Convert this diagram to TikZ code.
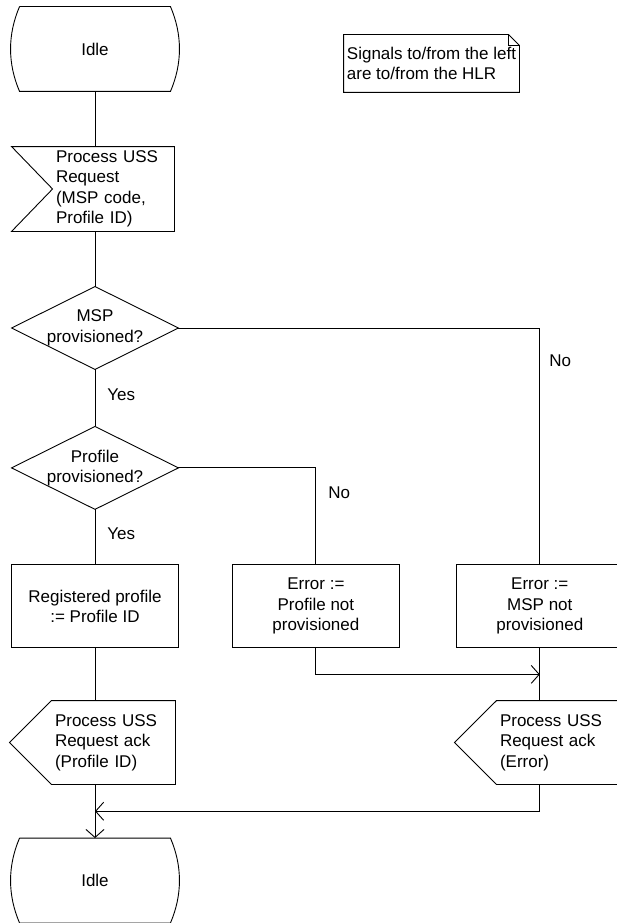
\documentclass[tikz,border=0pt]{standalone}
\usepackage{fontspec}
\setmainfont{Liberation Sans}
\usetikzlibrary{arrows.meta, positioning, calc}

\begin{document}
\begin{tikzpicture}[
        x=1pt, y=1pt, line width=0.9pt,
        every node/.style={font=\fontsize{17pt}{20.5pt}\selectfont},
        state/.style={minimum width=150pt, minimum height=84pt, inner sep=0pt,
            append after command={\pgfextra{\draw (\tikzlastnode.north west) -- (\tikzlastnode.north east)
                .. controls +(12pt,-28pt) and +(12pt,28pt) .. (\tikzlastnode.south east)
                -- (\tikzlastnode.south west)
                .. controls +(-12pt,28pt) and +(-12pt,-28pt) .. (\tikzlastnode.north west);}}},
        sigin/.style={minimum width=121pt, minimum height=84pt, text width=115pt, inner sep=3pt, align=left,
            append after command={\pgfextra{\draw (\tikzlastnode.north east) -- ([xshift=-41pt]\tikzlastnode.north west)
                -- (\tikzlastnode.west) -- ([xshift=-41pt]\tikzlastnode.south west)
                -- (\tikzlastnode.south east) -- cycle;}}},
        sigout/.style={minimum width=123pt, minimum height=83pt, text width=117pt, inner sep=3pt, align=left,
            append after command={\pgfextra{\draw (\tikzlastnode.north west) -- (\tikzlastnode.north east)
                -- (\tikzlastnode.south east) -- (\tikzlastnode.south west)
                -- ([xshift=-42pt]\tikzlastnode.west) -- cycle;}}},
        decision/.style={minimum width=166pt, minimum height=82pt, inner sep=0pt, align=center,
            append after command={\pgfextra{\draw (\tikzlastnode.north) -- (\tikzlastnode.east)
                -- (\tikzlastnode.south) -- (\tikzlastnode.west) -- cycle;}}},
        task/.style={rectangle, draw, minimum width=167pt, minimum height=83pt, inner sep=2pt, align=center},
        note/.style={minimum width=175pt, minimum height=57pt, inner sep=2pt, align=left,
            append after command={\pgfextra{\draw (\tikzlastnode.north west) -- ([xshift=-11pt]\tikzlastnode.north east)
                -- ([yshift=-11pt]\tikzlastnode.north east) -- (\tikzlastnode.south east)
                -- (\tikzlastnode.south west) -- cycle
                ([xshift=-11pt]\tikzlastnode.north east) |- ([yshift=-11pt]\tikzlastnode.north east);}}},
        lbl/.style={inner sep=0pt},
        arrow/.style={-{Straight Barb[length=8pt, width=18pt]}}
    ]
        \useasboundingbox (0,0) rectangle (617,-923);

        % Start
        \node[state] (idle1) at (95,-49) {Idle};
        \node[sigin] (req) at (113.5,-189) {Process USS\\Request\\(MSP code,\\Profile ID)};
        \node[note] (hlr) at (431.5,-63.5) {Signals to/from the left\\are to/from the HLR};

        % Checks
        \node[decision] (mspok) at (95,-328) {MSP\\provisioned?};
        \node[decision, below=57pt of mspok] (profok) {Profile\\provisioned?};

        % Tasks
        \node[task, below=55pt of profok] (setprof) {Registered profile\\:= Profile ID};
        \node[task, right=53pt of setprof] (errprof) {Error :=\\Profile not\\provisioned};
        \node[task, right=56pt of errprof] (errmsp) {Error :=\\MSP not\\provisioned};

        % Replies
        \node[sigout] (ackprof) at (113.5,-742.5) {Process USS\\Request ack\\(Profile ID)};
        \node[sigout] (ackerr) at (558.5,-742.5) {Process USS\\Request ack\\(Error)};
        \node[state] (idle2) at (95,-880.5) {Idle};

        % Connections
        \draw (idle1.south) -- (idle1.south |- req.north);
        \draw (idle1.south |- req.south) -- (mspok.north);
        \draw (mspok.south) -- node[lbl, pos=0.45, right=12pt] {Yes} (profok.north);
        \draw (profok.south) -- node[lbl, pos=0.45, right=12pt] {Yes} (setprof.north);
        \draw (mspok.east) -| node[lbl, pos=0.57, right=9pt] {No} (errmsp.north);
        \draw (profok.east) -| node[lbl, pos=0.63, right=12pt] {No} (errprof.north);
        \draw (setprof.south) -- (setprof.south |- ackprof.north);
        \coordinate (errin) at (errmsp.south |- ackerr.north);
        \draw (errmsp.south) -- (errin);
        \coordinate (join1) at ($(errmsp.south)!0.5!(errin)$);
        \draw[arrow] (errprof.south) |- (join1);
        \coordinate (profout) at (setprof.south |- ackprof.south);
        \draw[arrow] (profout) -- (idle2.north);
        \coordinate (join2) at ($(idle2.north)!0.5!(profout)$);
        \draw[arrow] (errmsp.south |- ackerr.south) |- (join2);
    \end{tikzpicture}
\end{document}
